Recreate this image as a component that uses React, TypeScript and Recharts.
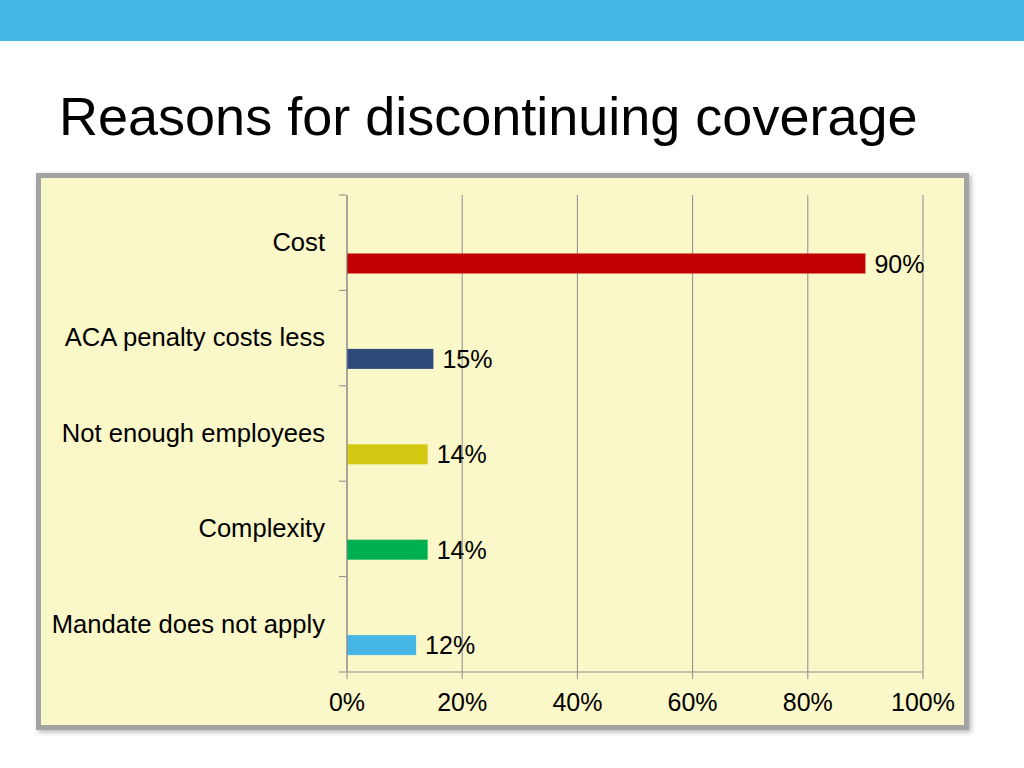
import { Bar, BarChart, CartesianGrid, Cell, LabelList, XAxis, YAxis } from "recharts";

const categories = [
  "Cost",
  "ACA penalty costs less",
  "Not enough employees",
  "Complexity",
  "Mandate does not apply",
];
const percentages = [90, 15, 14, 14, 12];
const xTicks = [0, 20, 40, 60, 80, 100];

const barColors = ["#c00000", "#2e4a7a", "#d4c813", "#00b050", "#46b6e4"];

const data = categories.map((reason, i) => ({ reason, percentage: percentages[i] }));

const FONT = '"Liberation Sans", Arial, Helvetica, sans-serif';
const AXIS_GREY = "#8c8c8c";
// bars sit in the lower half of each category band, labels at its centre
const BAR_DROP = 20.5;

function OffsetBar(props: any) {
  const { x, y, width, height, fill } = props;
  return <rect x={x} y={y + BAR_DROP} width={width} height={height} fill={fill} />;
}

function ValueLabel(props: any) {
  const { x, y, width, height, value } = props;
  return (
    <text
      x={x + width + 9}
      y={y + height / 2 + BAR_DROP}
      dy="0.36em"
      fill="#000"
      fontFamily={FONT}
      fontSize={25}
    >
      {`${value}%`}
    </text>
  );
}

function CategoryTick(props: any) {
  const { x, y, payload, index, visibleTicksCount } = props;
  const half = payload.offset ?? 47.7;
  const axisX = x + 7;
  return (
    <g>
      <line x1={axisX - 7} x2={axisX} y1={y - half} y2={y - half} stroke={AXIS_GREY} />
      {index === visibleTicksCount - 1 && (
        <line x1={axisX - 7} x2={axisX} y1={y + half} y2={y + half} stroke={AXIS_GREY} />
      )}
      <text
        x={325}
        y={y - 1}
        dy="0.36em"
        textAnchor="end"
        fill="#000"
        fontFamily={FONT}
        fontSize={25.6}
      >
        {payload.value}
      </text>
    </g>
  );
}

export default function App() {
  return (
    <div
      style={{
        position: "absolute",
        left: 0,
        top: 0,
        width: 1024,
        height: 768,
        background: "#ffffff",
        overflow: "hidden",
        fontFamily: FONT,
      }}
    >
      <div
        style={{ position: "absolute", left: 0, top: 0, width: 1024, height: 41, background: "#46b7e5" }}
      />

      <div
        style={{
          position: "absolute",
          left: 59,
          top: 89,
          fontSize: 54,
          lineHeight: 1,
          color: "#000",
          whiteSpace: "nowrap",
        }}
      >
        Reasons for discontinuing coverage
      </div>

      <div
        style={{
          position: "absolute",
          left: 36,
          top: 173,
          width: 923,
          height: 547,
          background: "#faf7c9",
          border: "5px solid #a3a3a3",
          boxShadow: "2px 2px 5px rgba(0, 0, 0, 0.3)",
        }}
      />

      <div style={{ position: "absolute", left: 0, top: 0 }}>
        <BarChart
          width={1024}
          height={768}
          data={data}
          layout="vertical"
          margin={{ top: 195, right: 101, bottom: 36, left: 0 }}
          barSize={20}
        >
          <CartesianGrid stroke={AXIS_GREY} horizontal={false} />

          <XAxis
            type="number"
            domain={[0, 100]}
            ticks={xTicks}
            interval={0}
            height={60}
            stroke={AXIS_GREY}
            tickSize={7}
            tickMargin={14}
            tickFormatter={(value: number) => `${value}%`}
            tick={{ fill: "#000", fontFamily: FONT, fontSize: 25 }}
          />

          <YAxis
            type="category"
            dataKey="reason"
            width={347}
            stroke={AXIS_GREY}
            tickLine={false}
            interval={0}
            tick={<CategoryTick />}
          />

          <Bar dataKey="percentage" shape={<OffsetBar />} isAnimationActive={false}>
            {data.map((entry, i) => (
              <Cell key={entry.reason} fill={barColors[i]} />
            ))}
            <LabelList dataKey="percentage" content={<ValueLabel />} />
          </Bar>
        </BarChart>
      </div>
    </div>
  );
}
